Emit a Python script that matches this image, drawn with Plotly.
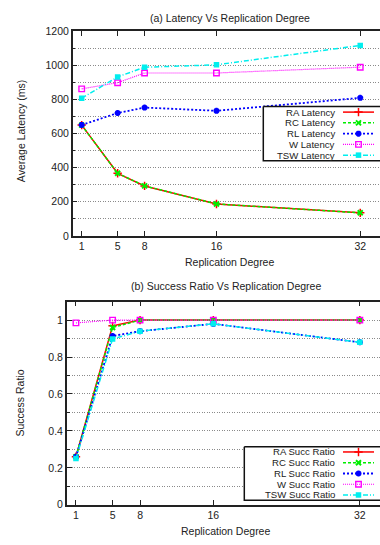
import plotly.graph_objects as go

W, H = 380, 545

degrees = [1, 5, 8, 16, 32]
x_ticks = [1, 5, 8, 16, 32]

lat_names = ["RA Latency", "RC Latency", "RL Latency", "W Latency", "TSW Latency"]
ra_lat = [650, 367, 293, 187, 135]
rc_lat = [650, 367, 293, 187, 135]
rl_lat = [651, 721, 753, 734, 810]
w_lat = [863, 899, 956, 956, 990]
tsw_lat = [808, 933, 990, 1004, 1118]

succ_names = ["RA Succ Ratio", "RC Succ Ratio", "RL Succ Ratio", "W Succ Ratio", "TSW Succ Ratio"]
ra_succ = [0.26, 0.969, 1.0, 1.0, 1.0]
rc_succ = [0.26, 0.96, 1.0, 1.0, 1.0]
rl_succ = [0.26, 0.914, 0.94, 0.98, 0.88]
w_succ = [0.985, 1.0, 1.0, 1.0, 1.0]
tsw_succ = [0.25, 0.898, 0.94, 0.98, 0.88]

FONT = "Liberation Sans, Arial, sans-serif"
FS = 10.5
LFS = 9.6
GRID = "#8a8a8a"
GDASH = "1px,1.5px"

styles = [
    dict(color="#ff0000", dash="solid", width=1.5, symbol="cross-thin", size=6, mlw=1.5),
    dict(color="#00ee00", dash="3px,2px", width=1.5, symbol="x-thin", size=5, mlw=2),
    dict(color="#0000ff", dash="2px,2px", width=1.8, symbol="asterisk-open", size=5, mlw=2),
    dict(color="#ff00ff", dash="1px,1px", width=1.2, symbol="square-open", size=5.5, mlw=1.4),
    dict(color="#00eeee", dash="5px,2px,1px,2px", width=1.5, symbol="square", size=5.5, mlw=0),
]


def px(v):
    return v / W


def py(v):
    return 1 - v / H


fig = go.Figure()

lat_series = [ra_lat, rc_lat, rl_lat, w_lat, tsw_lat]
succ_series = [ra_succ, rc_succ, rl_succ, w_succ, tsw_succ]

for name, ys, st in zip(lat_names, lat_series, styles):
    fig.add_trace(go.Scatter(
        x=degrees, y=ys, name=name, mode="lines+markers", xaxis="x", yaxis="y",
        line=dict(color=st["color"], dash=st["dash"], width=st["width"]),
        marker=dict(symbol=st["symbol"], size=st["size"], color=st["color"],
                    line=dict(color=st["color"], width=st["mlw"])),
        showlegend=False))

for name, ys, st in zip(succ_names, succ_series, styles):
    fig.add_trace(go.Scatter(
        x=degrees, y=ys, name=name, mode="lines+markers", xaxis="x2", yaxis="y2",
        line=dict(color=st["color"], dash=st["dash"], width=st["width"]),
        marker=dict(symbol=st["symbol"], size=st["size"], color=st["color"],
                    line=dict(color=st["color"], width=st["mlw"])),
        showlegend=False))

# custom gnuplot-style legends (drawn on an overlay pixel axis)
annotations = []


def add_legend(names, box, row_y):
    x0, y0, y1 = box
    fig.add_trace(go.Scatter(
        x=[x0, 382, 382, x0, x0], y=[y0, y0, y1, y1, y0], mode="lines",
        fill="toself", fillcolor="white", line=dict(color="#111", width=1.5),
        xaxis="x3", yaxis="y3", showlegend=False, hoverinfo="skip"))
    for name, yy, st in zip(names, row_y, styles):
        fig.add_trace(go.Scatter(
            x=[343, 374], y=[yy, yy], mode="lines", xaxis="x3", yaxis="y3",
            line=dict(color=st["color"], dash=st["dash"], width=st["width"]),
            showlegend=False, hoverinfo="skip"))
        fig.add_trace(go.Scatter(
            x=[358.5], y=[yy], mode="markers", xaxis="x3", yaxis="y3",
            marker=dict(symbol=st["symbol"], size=st["size"], color=st["color"],
                        line=dict(color=st["color"], width=st["mlw"])),
            showlegend=False, hoverinfo="skip"))
        annotations.append(dict(
            x=px(336), y=py(yy), xref="paper", yref="paper", text=name,
            showarrow=False, xanchor="right", yanchor="middle",
            borderpad=0,
            font=dict(family=FONT, size=LFS, color="#222")))


add_legend(lat_names, (263.3, 102.7, 158.3), [108.5 + 11 * i for i in range(5)])
add_legend(succ_names, (244.3, 450.8, 505.5), [456 + 11 * i for i in range(5)])

# titles
for text, x, y, ang in [
    ("(a) Latency Vs Replication Degree", 230, 12, 0),
    ("Replication Degree", 229.5, 262, 0),
    ("Average Latency (ms)", 21, 128, -90),
    ("(b) Success Ratio Vs Replication Degree", 226, 286, 0),
    ("Replication Degree", 226, 537, 0),
    ("Success Ratio", 20.5, 406, -90),
]:
    annotations.append(dict(
        x=px(x), y=py(y), xref="paper", yref="paper", text=text, showarrow=False,
        xanchor="center", yanchor="middle", textangle=ang,
        font=dict(family=FONT, size=FS, color="#222")))

xcommon = dict(
    tickmode="array", tickvals=x_ticks, ticktext=[str(t) for t in x_ticks],
    ticks="inside", ticklen=5, tickwidth=1, tickcolor="#222",
    showline=True, linecolor="#222", linewidth=1.5, mirror="ticks",
    showgrid=False, zeroline=False, range=[0, 34.2],
    tickfont=dict(family=FONT, size=FS, color="#222"),
)
ycommon = dict(
    ticks="inside", ticklen=5, tickwidth=1, tickcolor="#222",
    showline=True, linecolor="#222", linewidth=1.5,
    showgrid=True, gridcolor=GRID, griddash=GDASH, gridwidth=1,
    zeroline=False, tickfont=dict(family=FONT, size=FS, color="#222"),
)

fig.update_layout(
    width=W, height=H,
    margin=dict(l=0, r=0, t=0, b=0),
    paper_bgcolor="white", plot_bgcolor="rgba(0,0,0,0)",
    showlegend=False,
    xaxis=dict(**xcommon, domain=[px(72.7), 1], anchor="y"),
    yaxis=dict(**ycommon, domain=[py(235), py(26)], anchor="x",
               range=[0, 1200], tickvals=[0, 200, 400, 600, 800, 1000, 1200],
               minor=dict(dtick=100, tick0=0, showgrid=True, gridcolor=GRID,
                          griddash=GDASH, ticks="inside", ticklen=3, tickcolor="#222")),
    xaxis2=dict(**xcommon, domain=[px(66.8), 1], anchor="y2"),
    yaxis2=dict(**ycommon, domain=[py(510), py(302.3)], anchor="x2",
                range=[0, 1.1], tickvals=[0, 0.2, 0.4, 0.6, 0.8, 1.0],
                ticktext=["0", "0.2", "0.4", "0.6", "0.8", "1"],
                minor=dict(dtick=0.1, tick0=0, showgrid=True, gridcolor=GRID,
                           griddash=GDASH, ticks="inside", ticklen=3, tickcolor="#222")),
    xaxis3=dict(domain=[0, 1], range=[0, W], visible=False, anchor="y3", fixedrange=True),
    yaxis3=dict(domain=[0, 1], range=[H, 0], visible=False, anchor="x3", fixedrange=True),
    annotations=annotations,
)

fig.write_html("out.html", config={"displayModeBar": False},
               post_script="document.body.style.margin='0';document.body.style.overflow='hidden';")
